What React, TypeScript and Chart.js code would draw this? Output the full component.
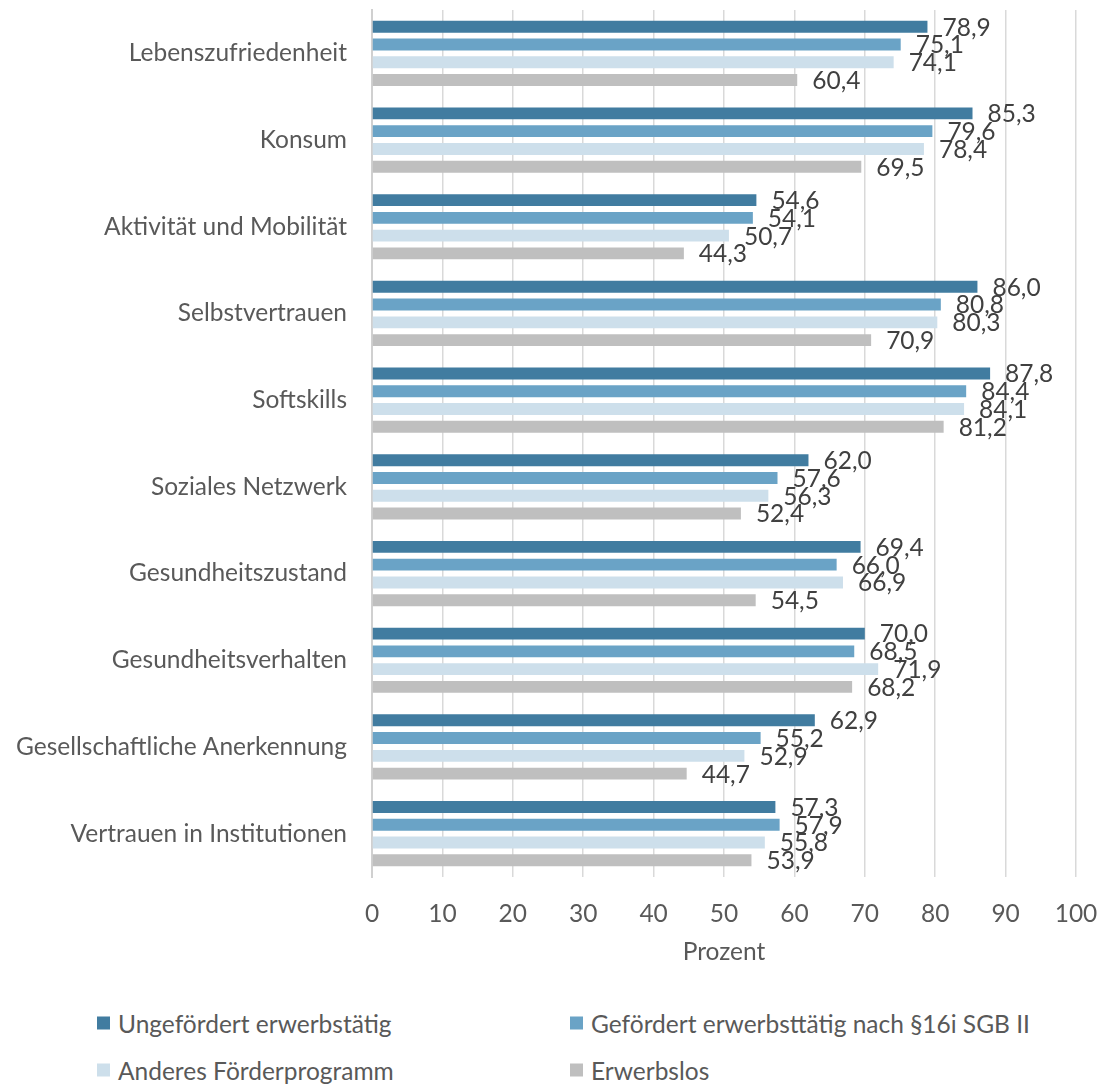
import React, { useEffect, useRef } from "react";
import { Chart, registerables } from "chart.js";

Chart.register(...registerables);

const categories = [
  "Lebenszufriedenheit",
  "Konsum",
  "Aktivität und Mobilität",
  "Selbstvertrauen",
  "Softskills",
  "Soziales Netzwerk",
  "Gesundheitszustand",
  "Gesundheitsverhalten",
  "Gesellschaftliche Anerkennung",
  "Vertrauen in Institutionen",
];

const seriesNames = [
  "Ungefördert erwerbstätig",
  "Gefördert erwerbsttätig nach §16i SGB II",
  "Anderes Förderprogramm",
  "Erwerbslos",
];

const ungefoerdert = [78.9, 85.3, 54.6, 86.0, 87.8, 62.0, 69.4, 70.0, 62.9, 57.3];
const gefoerdert16i = [75.1, 79.6, 54.1, 80.8, 84.4, 57.6, 66.0, 68.5, 55.2, 57.9];
const anderesProgramm = [74.1, 78.4, 50.7, 80.3, 84.1, 56.3, 66.9, 71.9, 52.9, 55.8];
const erwerbslos = [60.4, 69.5, 44.3, 70.9, 81.2, 52.4, 54.5, 68.2, 44.7, 53.9];

const xTicks = [0, 10, 20, 30, 40, 50, 60, 70, 80, 90, 100];

const seriesValues = [ungefoerdert, gefoerdert16i, anderesProgramm, erwerbslos];
const seriesColors = ["#417CA0", "#6AA3C6", "#CDDFEB", "#BFBFBF"];

const FONT = "Lato, 'Open Sans', sans-serif";
const FS = 24.5;
const TEXT = "#595959";

const valueLabels = {
  id: "valueLabels",
  afterDatasetsDraw(chart: any) {
    const ctx = chart.ctx;
    ctx.save();
    ctx.font = `${FS}px ${FONT}`;
    ctx.fillStyle = "#404040";
    ctx.textAlign = "left";
    ctx.textBaseline = "middle";
    chart.data.datasets.forEach((ds: any, i: number) => {
      const meta = chart.getDatasetMeta(i);
      meta.data.forEach((el: any, j: number) => {
        const v = ds.data[j] as number;
        ctx.fillText(v.toFixed(1).replace(".", ","), el.x + 15, el.y + 1);
      });
    });
    ctx.restore();
  },
};

export default function App() {
  const ref = useRef<HTMLCanvasElement | null>(null);

  useEffect(() => {
    if (!ref.current) return;
    const chart = new Chart(ref.current, {
      type: "bar",
      data: {
        labels: categories,
        datasets: seriesNames.map((name, i) => ({
          label: name,
          data: seriesValues[i],
          backgroundColor: seriesColors[i],
          borderWidth: 0,
          barPercentage: 0.67,
          categoryPercentage: 0.82,
        })),
      },
      options: {
        indexAxis: "y",
        responsive: false,
        animation: false,
        layout: { autoPadding: false, padding: 0 },
        plugins: {
          legend: { display: false },
          tooltip: { enabled: false },
        },
        scales: {
          x: {
            min: 0,
            max: 100,
            afterBuildTicks: (scale: any) => {
              scale.ticks = xTicks.map((v) => ({ value: v }));
            },
            afterFit: (scale: any) => {
              scale.height = 103;
              scale.paddingLeft = 0;
              scale.paddingRight = 24;
            },
            grid: { color: "#D9D9D9", lineWidth: 1.5, drawTicks: false },
            border: { display: false },
            ticks: {
              color: TEXT,
              font: { family: FONT, size: FS },
              padding: 22,
            },
            title: {
              display: true,
              text: "Prozent",
              color: TEXT,
              font: { family: FONT, size: FS },
              padding: { top: 0, bottom: 13 },
            },
          },
          y: {
            afterFit: (scale: any) => {
              scale.width = 372;
              scale.paddingTop = 10;
              scale.paddingBottom = 0;
            },
            grid: { display: false, drawTicks: false },
            border: { display: true, color: "#D0D0D0", width: 2 },
            ticks: {
              color: TEXT,
              font: { family: FONT, size: FS },
              padding: 25,
            },
          },
        },
      },
      plugins: [valueLabels],
    });
    return () => chart.destroy();
  }, []);

  const legendPos = [
    { left: 97, top: 1023 },
    { left: 570, top: 1023 },
    { left: 97, top: 1070 },
    { left: 570, top: 1070 },
  ];

  return (
    <div style={{ position: "absolute", left: 0, top: 0, width: 1100, height: 1084, background: "#fff" }}>
      <canvas ref={ref} width={1100} height={980} style={{ display: "block" }} />
      {seriesNames.map((name, i) => (
        <div
          key={name}
          style={{
            position: "absolute",
            left: legendPos[i].left,
            top: legendPos[i].top,
            transform: "translateY(-50%)",
            display: "flex",
            alignItems: "center",
            fontFamily: FONT,
            fontSize: FS,
            color: TEXT,
            whiteSpace: "nowrap",
          }}
        >
          <span style={{ display: "inline-block", width: 13, height: 13, background: seriesColors[i], marginRight: 8 }} />
          <span>{name}</span>
        </div>
      ))}
    </div>
  );
}
